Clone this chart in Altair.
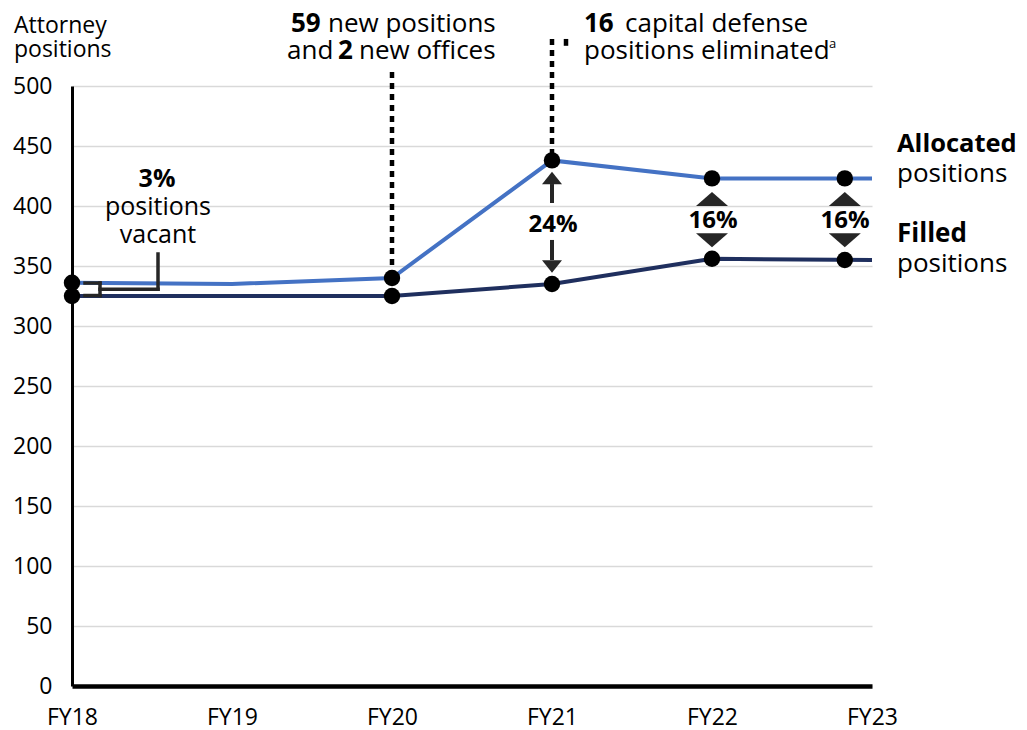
import altair as alt
import pandas as pd

# ---- data ----
years = ["FY18", "FY19", "FY20", "FY21", "FY22", "FY23"]
allocated = [336, 335, 340, 438, 423, 423]
filled = [325, 325, 325, 335, 356, 355]

# marker positions (year index) and values
marker_idx = [0, 2, 3, 4, 4.83]
allocated_markers = [336, 340, 438, 423, 423]
filled_markers = [325, 325, 335, 356, 355]

y_ticks = list(range(0, 501, 50))

BLUE = "#4472c4"
NAVY = "#1f2f5e"
DARK = "#262626"
FONT = "Open Sans"

xs = alt.Scale(domain=[0, 5], nice=False, zero=False)
ys = alt.Scale(domain=[0, 500], nice=False, zero=True)

label_expr = "[" + ",".join(f"'{y}'" for y in years) + "][datum.value]"

X_AX = alt.Axis(
    values=list(range(len(years))), labelExpr=label_expr, grid=False, ticks=False,
    domain=True, domainColor="black", domainWidth=4.5, labelFont=FONT,
    labelFontSize=23, labelColor="black", labelPadding=38, labelBaseline="alphabetic",
    labelFlush=False, labelOverlap=False, title=None)
Y_AX = alt.Axis(
    values=y_ticks, grid=True, gridColor="#d9d9d9", gridWidth=1.5, ticks=False,
    domain=True, domainColor="black", domainWidth=3, labelFont=FONT,
    labelFontSize=23, labelColor="black", labelPadding=20, labelFlush=False,
    labelOverlap=False, title=None)


def X(f="i"):
    return alt.X(f"{f}:Q", scale=xs, axis=X_AX)


def Y(f="v"):
    return alt.Y(f"{f}:Q", scale=ys, axis=Y_AX)


lines_df = pd.DataFrame({
    "i": list(range(len(years))) * 2,
    "v": allocated + filled,
    "series": ["Allocated"] * len(years) + ["Filled"] * len(years),
})

lines = alt.Chart(lines_df).mark_line(strokeWidth=4).encode(
    x=X(), y=Y(),
    color=alt.Color("series:N", scale=alt.Scale(domain=["Allocated", "Filled"], range=[BLUE, NAVY]), legend=None),
    detail="series:N",
)

# dashed event lines (top value -> marker value)
dash_df = pd.DataFrame({"i": [2, 3], "v": [511.7, 539.2], "v2": [340, 438]})
dashes = alt.Chart(dash_df).mark_rule(strokeDash=[6, 5], strokeWidth=4.5, color="black").encode(
    x=X(), y=Y(), y2="v2:Q")

frag_df = pd.DataFrame({"i": [3.0875], "v": [539.2], "v2": [533.5]})
frag = alt.Chart(frag_df).mark_rule(strokeWidth=4.5, color="black").encode(
    x=X(), y=Y(), y2="v2:Q")

# bracket for "3% positions vacant"
br_df = pd.DataFrame({
    "i":  [0.08125, 0.175, 0.08125, 0.175, 0.5375],
    "i2": [0.175, 0.175, 0.175, 0.5375, 0.5375],
    "v":  [335.8, 335.8, 325.4, 330.6, 330.6],
    "v2": [335.8, 325.4, 325.4, 330.6, 360.0],
})
bracket = alt.Chart(br_df).mark_rule(strokeWidth=3.5, color=DARK, strokeCap="square").encode(
    x=X(), x2="i2:Q", y=Y(), y2="v2:Q")

# arrow shafts at FY21
shaft_df = pd.DataFrame({"i": [3, 3], "v": [418.3, 371.7], "v2": [402.5, 355.0]})
shafts = alt.Chart(shaft_df).mark_rule(strokeWidth=4, color=DARK).encode(
    x=X(), y=Y(), y2="v2:Q")

UP_S = "M-1,0.63L0,-0.63L1,0.63Z"
DN_S = "M-1,-0.63L0,0.63L1,-0.63Z"
UP_B = "M-1,0.44L0,-0.44L1,0.44Z"
DN_B = "M-1,-0.44L0,0.44L1,-0.44Z"


def tri(idx, vals, shape, size):
    df = pd.DataFrame({"i": idx, "v": vals})
    return alt.Chart(df).mark_point(shape=shape, size=size, filled=True, color=DARK,
                                    opacity=1, strokeWidth=0).encode(x=X(), y=Y())


tris = [
    tri([3], [423.3], UP_S, 400),
    tri([3], [349.6], DN_S, 400),
    tri([4, 4.83], [405.9, 405.9], UP_B, 1024),
    tri([4, 4.83], [371.4, 371.4], DN_B, 1024),
]

dots_df = pd.DataFrame({
    "i": marker_idx * 2,
    "v": allocated_markers + filled_markers,
})
dots = alt.Chart(dots_df).mark_circle(size=270, color="black", opacity=1).encode(x=X(), y=Y())


def txt(t, x, y, size, bold=False, align="left"):
    return alt.Chart(pd.DataFrame({"t": [t]})).mark_text(
        font=FONT, fontSize=size, fontWeight="bold" if bold else "normal",
        align=align, baseline="alphabetic", color="black").encode(
        text="t:N", x=alt.value(x), y=alt.value(y))


texts = [
    txt("Attorney", -58, -53, 23),
    txt("positions", -58, -29, 23),
    txt("3%", 85, 101, 25, True, "center"),
    txt("positions", 86, 129, 25, False, "center"),
    txt("vacant", 86, 157, 25, False, "center"),
    txt("59", 219, -54, 26, True),
    txt("new positions", 256, -54, 26),
    txt("and", 215, -27, 26),
    txt("2", 266, -27, 26, True),
    txt("new offices", 287, -27, 26),
    txt("16", 512, -54, 26, True),
    txt("capital defense", 553, -54, 26),
    txt("positions eliminated", 512, -27, 26),
    txt("a", 757, -38, 13),
    txt("24%", 481, 146, 24, True, "center"),
    txt("16%", 641, 142, 24, True, "center"),
    txt("16%", 773, 142, 24, True, "center"),
    txt("Allocated", 825, 66, 25.5, True),
    txt("positions", 825, 96, 26),
    txt("Filled", 825, 156, 26, True),
    txt("positions", 825, 186, 26),
]

chart = alt.layer(lines, dashes, frag, bracket, shafts, *tris, dots, *texts).properties(
    width=800, height=600, autosize="none",
    padding={"left": 64, "top": 78, "right": 147, "bottom": 42},
    background="white",
).configure_view(stroke=None)

chart.save("out.html", embed_options={"renderer": "svg", "actions": False})
